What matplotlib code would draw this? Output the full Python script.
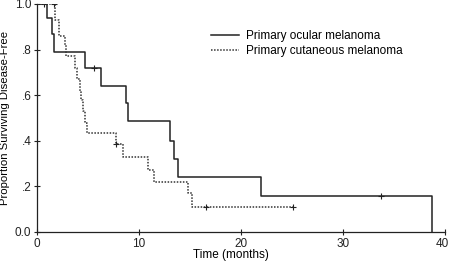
import numpy as np
import matplotlib
matplotlib.use('Agg')
import matplotlib.pyplot as plt
import matplotlib.transforms as mtransforms

# Kaplan-Meier step data
ocular_t = [0, 1.0, 1.5, 1.7, 4.7, 6.3, 8.7, 8.9, 13.0, 13.4, 13.85, 22.0, 38.7]
ocular_s = [1.0, 0.94, 0.87, 0.79, 0.72, 0.64, 0.565, 0.485, 0.40, 0.32, 0.24, 0.16, 0.0]
ocular_cens_t = [0.7, 5.6, 33.7]
ocular_cens_s = [1.0, 0.72, 0.16]

cut_t = [0, 1.8, 2.2, 2.7, 2.85, 3.7, 3.9, 4.2, 4.35, 4.5, 4.7, 4.9,
         7.75, 8.4, 10.9, 11.5, 14.8, 15.2, 25.1]
cut_s = [1.0, 0.93, 0.86, 0.82, 0.77, 0.72, 0.67, 0.62, 0.58, 0.53, 0.48, 0.435,
         0.386, 0.33, 0.272, 0.22, 0.17, 0.11, 0.11]
cut_cens_t = [1.7, 7.75, 16.6, 25.1]
cut_cens_s = [1.0, 0.386, 0.11, 0.11]

xticks = [0, 10, 20, 30, 40]
yticks = [0.0, 0.2, 0.4, 0.6, 0.8, 1.0]
ylabels = ['0.0', '.2', '.4', '.6', '.8', '1.0']

plt.rcParams['font.family'] = ['Liberation Sans', 'DejaVu Sans']
fs = 8.5
col = '#222222'

fig = plt.figure(figsize=(4.5, 2.64), dpi=100)
ax = fig.add_axes([37/450, 1-232/264, (445-37)/450, 228/264])

ln1, = ax.plot(ocular_t, ocular_s, drawstyle='steps-post', color=col, lw=1.1,
               label='Primary ocular melanoma')
ax.plot(ocular_cens_t, ocular_cens_s, '+', color=col, ms=5, mew=0.8)
ln2, = ax.plot(cut_t, cut_s, drawstyle='steps-post', color='#333333', lw=1.1,
               linestyle=(0, (1, 1)), label='Primary cutaneous melanoma')
ax.plot(cut_cens_t, cut_cens_s, '+', color=col, ms=5, mew=0.8)

ax.set_xlim(0, 40)
ax.set_ylim(0, 1.0)
ax.set_xticks(xticks)
ax.set_yticks(yticks)
ax.set_yticklabels(ylabels)
ax.tick_params(labelsize=fs, direction='inout', length=4, width=0.8, colors=col, pad=2)
for s in ['top', 'right']:
    ax.spines[s].set_visible(False)
for s in ['left', 'bottom']:
    ax.spines[s].set_color(col)
    ax.spines[s].set_linewidth(0.9)

# keep the "40" inside the canvas edge
last = ax.get_xticklabels()[-1]
last.set_ha('right')
last.set_transform(last.get_transform() +
                   mtransforms.ScaledTranslation(4/100, 0, fig.dpi_scale_trans))

ax.set_xlabel('Time (months)', fontsize=fs)
ax.xaxis.set_label_coords(0.475, -0.075)
ax.set_ylabel('Proportion Surviving Disease-Free', fontsize=8.2)
ax.yaxis.set_label_coords(-0.066, 0.5)

ax.legend(handles=[ln1, ln2], frameon=False, fontsize=fs, handlelength=2.4,
          handletextpad=0.55, labelspacing=0.25, loc='upper left',
          bbox_to_anchor=(211/450, 1-30/264), bbox_transform=fig.transFigure,
          borderpad=0, borderaxespad=0)

plt.savefig('out.png', dpi=100)
